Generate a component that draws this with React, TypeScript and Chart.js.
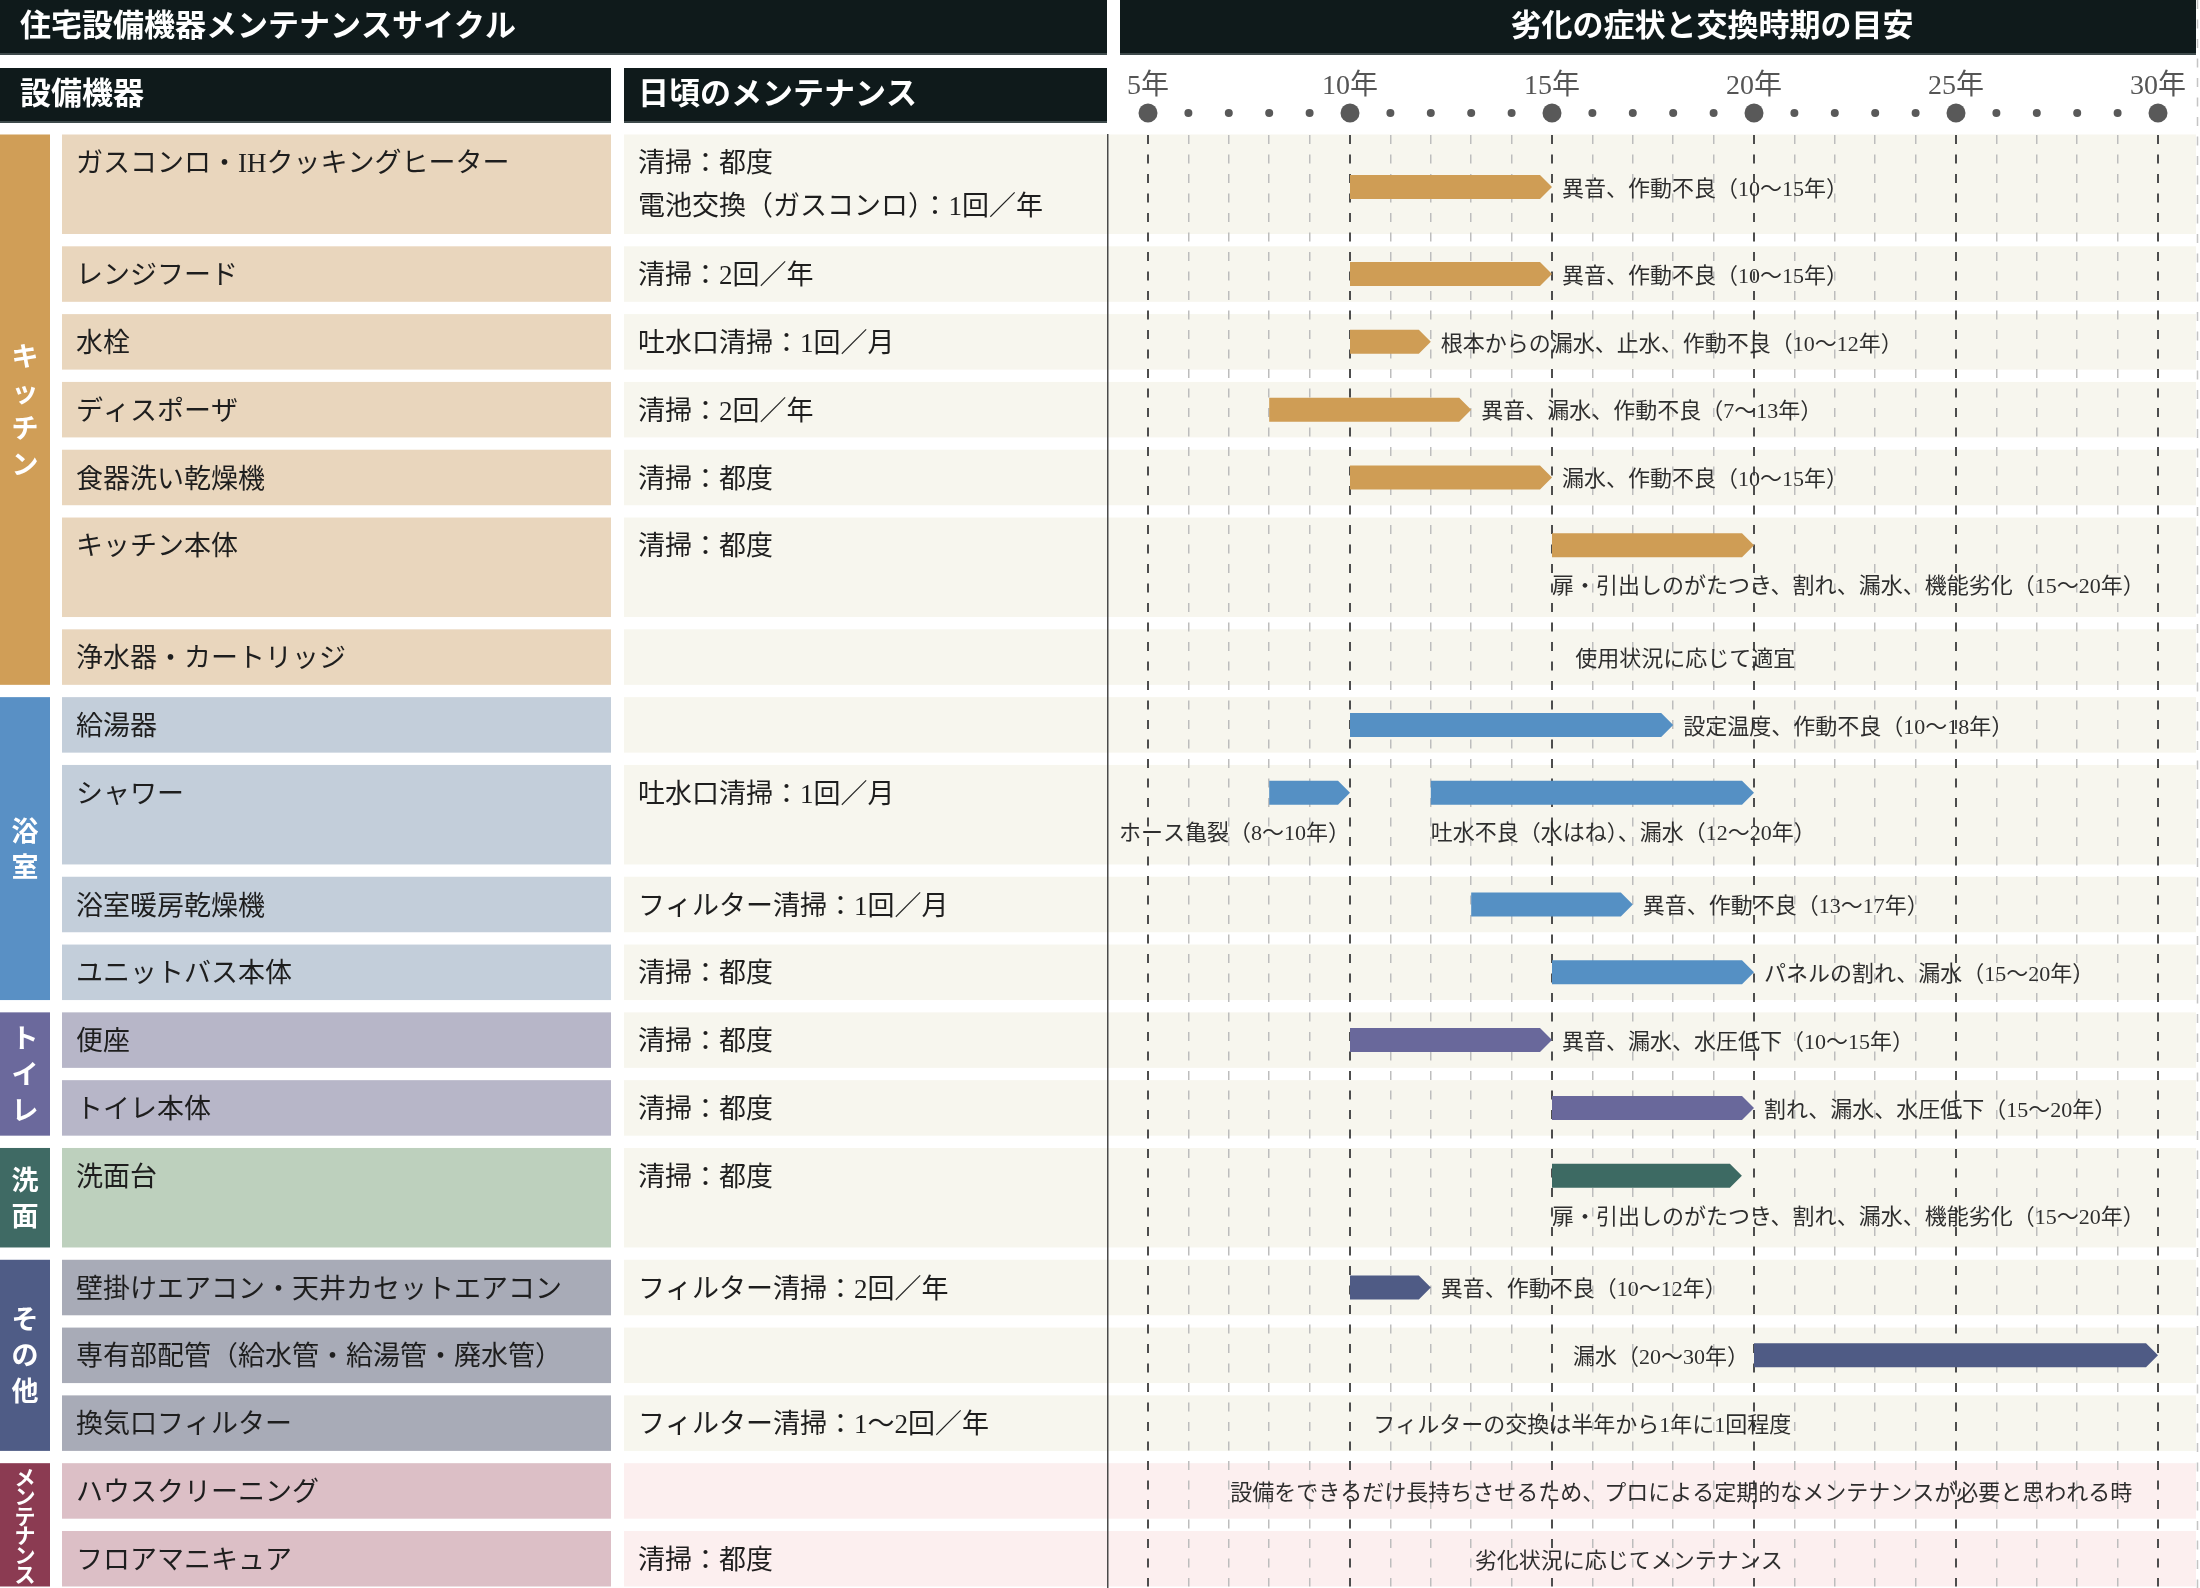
import React, { useEffect, useRef } from 'react';
import { Chart, registerables } from 'chart.js';

Chart.register(...registerables);

// ---------- data ----------
const mainTitle = '住宅設備機器メンテナンスサイクル';
const chartTitle = '劣化の症状と交換時期の目安';
const itemHeader = '設備機器';
const careHeader = '日頃のメンテナンス';

const groupNames = ['キッチン', '浴室', 'トイレ', '洗面', 'その他', 'メンテナンス'];
const groupSizes = [7, 4, 2, 1, 3, 2];

const itemNames = [
  'ガスコンロ・IHクッキングヒーター',
  'レンジフード',
  '水栓',
  'ディスポーザ',
  '食器洗い乾燥機',
  'キッチン本体',
  '浄水器・カートリッジ',
  '給湯器',
  'シャワー',
  '浴室暖房乾燥機',
  'ユニットバス本体',
  '便座',
  'トイレ本体',
  '洗面台',
  '壁掛けエアコン・天井カセットエアコン',
  '専有部配管（給水管・給湯管・廃水管）',
  '換気口フィルター',
  'ハウスクリーニング',
  'フロアマニキュア',
];

const dailyCare = [
  '清掃：都度\n電池交換（ガスコンロ）：1回／年',
  '清掃：2回／年',
  '吐水口清掃：1回／月',
  '清掃：2回／年',
  '清掃：都度',
  '清掃：都度',
  '',
  '',
  '吐水口清掃：1回／月',
  'フィルター清掃：1回／月',
  '清掃：都度',
  '清掃：都度',
  '清掃：都度',
  '清掃：都度',
  'フィルター清掃：2回／年',
  '',
  'フィルター清掃：1〜2回／年',
  '',
  '清掃：都度',
];

const barRows = [0, 1, 2, 3, 4, 5, 7, 8, 8, 9, 10, 11, 12, 13, 14, 15];
const barStart = [10, 10, 10, 8, 10, 15, 10, 8, 12, 13, 15, 10, 15, 15, 10, 20];
const barEnd = [15, 15, 12, 13, 15, 20, 18, 10, 20, 17, 20, 15, 20, 19.7, 12, 30];
const barLabels = [
  '異音、作動不良（10〜15年）',
  '異音、作動不良（10〜15年）',
  '根本からの漏水、止水、作動不良（10〜12年）',
  '異音、漏水、作動不良（7〜13年）',
  '漏水、作動不良（10〜15年）',
  '扉・引出しのがたつき、割れ、漏水、機能劣化（15〜20年）',
  '設定温度、作動不良（10〜18年）',
  'ホース亀裂（8〜10年）',
  '吐水不良（水はね）、漏水（12〜20年）',
  '異音、作動不良（13〜17年）',
  'パネルの割れ、漏水（15〜20年）',
  '異音、漏水、水圧低下（10〜15年）',
  '割れ、漏水、水圧低下（15〜20年）',
  '扉・引出しのがたつき、割れ、漏水、機能劣化（15〜20年）',
  '異音、作動不良（10〜12年）',
  '漏水（20〜30年）',
];
const barLabelSide = [
  'right', 'right', 'right', 'right', 'right', 'below', 'right', 'belowEnd',
  'below', 'right', 'right', 'right', 'right', 'below', 'right', 'left',
];

const noteRows = [6, 16, 17, 18];
const noteTexts = [
  '使用状況に応じて適宜',
  'フィルターの交換は半年から1年に1回程度',
  '設備をできるだけ長持ちさせるため、プロによる定期的なメンテナンスが必要と思われる時',
  '劣化状況に応じてメンテナンス',
];
const noteYears = [18.3, 15.75, 18.2, 16.9];

const axisYears = [5, 10, 15, 20, 25, 30];
const axisLabels = ['5年', '10年', '15年', '20年', '25年', '30年'];

// ---------- styles ----------
const W = 2200;
const H = 1588;
const DARK = '#0f1a1b';
const stripColors = ['#d09e57', '#5990c5', '#6b699c', '#3f6a64', '#4f5c86', '#8b3b52'];
const cellColors = ['#e9d6bd', '#c3ceda', '#b7b6c8', '#bdd0bd', '#a8abb7', '#dcbfc6'];
const barColors = ['#cf9d55', '#5590c4', '#69689b', '#3d6a63', '#4f5b85', '#8b3b52'];
const rowBg = ['#f7f6ee', '#f7f6ee', '#f7f6ee', '#f7f6ee', '#f7f6ee', '#fcefef'];
const JP = '"Liberation Serif", "Noto Sans CJK JP", serif';
const DY = 3; // small downward nudge for middle-baseline text

const ROW_BOX = 0.8186;
const TALL_BOX = 1.4676;
const ROW_GAP = 0.1814;

// derived layout
const rowGroup: number[] = [];
groupSizes.forEach((n, g) => { for (let i = 0; i < n; i++) rowGroup.push(g); });
const rowTall = itemNames.map((_, i) =>
  dailyCare[i].includes('\n') ||
  barRows.some((r, k) => r === i && barLabelSide[k].startsWith('below'))
);
const rowTop: number[] = [];
const rowBox: number[] = [];
{
  let t = 0;
  itemNames.forEach((_, i) => {
    rowTop.push(t);
    const b = rowTall[i] ? TALL_BOX : ROW_BOX;
    rowBox.push(b);
    t += b + ROW_GAP;
  });
}
const totalUnits = rowTop[rowTop.length - 1] + rowBox[rowBox.length - 1];

const barCenter = barRows.map((r, k) =>
  barLabelSide[k].startsWith('below') ? rowTop[r] + ROW_BOX / 2 : rowTop[r] + rowBox[r] / 2 + (rowTall[r] ? 0.04 : 0)
);

const barData = barRows.map((r, k) => ({ x: [barStart[k], barEnd[k]], y: barCenter[k] }));

const tablePlugin = {
  id: 'maintTable',
  beforeDraw(chart: any) {
    const ctx = chart.ctx as CanvasRenderingContext2D;
    const ys = chart.scales.y;
    const xs = chart.scales.x;
    ctx.save();
    ctx.fillStyle = '#ffffff';
    ctx.fillRect(0, 0, W, H);

    // title bars
    ctx.fillStyle = DARK;
    ctx.fillRect(0, 0, 1107, 55);
    ctx.fillRect(1120, 0, 1076, 55);
    ctx.fillRect(0, 68, 611, 55);
    ctx.fillRect(624, 68, 483, 55);
    ctx.fillStyle = '#3e4a4b';
    ctx.fillRect(0, 53, 1107, 2);
    ctx.fillRect(1120, 53, 1076, 2);
    ctx.fillRect(0, 121, 611, 2);
    ctx.fillRect(624, 121, 483, 2);

    ctx.fillStyle = '#ffffff';
    ctx.font = `bold 31px ${JP}`;
    ctx.textBaseline = 'middle';
    ctx.textAlign = 'left';
    ctx.fillText(mainTitle, 20, 28);
    ctx.fillText(itemHeader, 20, 96);
    ctx.fillText(careHeader, 638, 96);
    ctx.textAlign = 'center';
    ctx.fillText(chartTitle, 1712, 28);

    // rows
    itemNames.forEach((name, i) => {
      const g = rowGroup[i];
      const top = ys.getPixelForValue(rowTop[i]);
      const bot = ys.getPixelForValue(rowTop[i] + rowBox[i]);
      ctx.fillStyle = cellColors[g];
      ctx.fillRect(62, top, 549, bot - top);
      ctx.fillStyle = rowBg[g];
      ctx.fillRect(624, top, 2196 - 624, bot - top);
      const ty = ys.getPixelForValue(rowTop[i] + ROW_BOX / 2) + DY;
      ctx.fillStyle = '#1e1e1e';
      ctx.font = `27px ${JP}`;
      ctx.textAlign = 'left';
      ctx.fillText(name, 76, ty);
      dailyCare[i].split('\n').forEach((line, li) => {
        if (line) ctx.fillText(line, 638, ty + li * 43);
      });
    });

    // group strips
    let start = 0;
    groupNames.forEach((gname, g) => {
      const first = start;
      const last = start + groupSizes[g] - 1;
      start += groupSizes[g];
      const top = ys.getPixelForValue(rowTop[first]);
      const bot = ys.getPixelForValue(rowTop[last] + rowBox[last]);
      ctx.fillStyle = stripColors[g];
      ctx.fillRect(0, top, 50, bot - top);
      const chars = Array.from(gname);
      const small = chars.length > 4;
      const step = small ? 19.5 : 36;
      ctx.font = `bold ${small ? 21 : 27}px ${JP}`;
      ctx.fillStyle = '#ffffff';
      ctx.textAlign = 'center';
      const mid = (top + bot) / 2 + (small ? 3 : DY);
      chars.forEach((c, ci) => {
        ctx.fillText(c, 25, mid + (ci - (chars.length - 1) / 2) * step);
      });
    });

    // separator and right edge
    ctx.fillStyle = '#4a4a4a';
    ctx.fillRect(1107, 134, 1.5, H - 134);
    ctx.strokeStyle = '#c4c4c4';
    ctx.lineWidth = 1.5;
    ctx.setLineDash([9, 10.5]);
    ctx.beginPath();
    ctx.moveTo(2197.5, 0);
    ctx.lineTo(2197.5, H);
    ctx.stroke();
    ctx.setLineDash([]);

    // axis dots and labels
    for (let yr = xs.min; yr <= xs.max; yr++) {
      const px = xs.getPixelForValue(yr);
      const major = axisYears.includes(yr);
      ctx.fillStyle = '#595959';
      ctx.beginPath();
      ctx.arc(px, 113, major ? 9.5 : 4, 0, Math.PI * 2);
      ctx.fill();
    }
    ctx.fillStyle = '#555555';
    ctx.font = `28px ${JP}`;
    ctx.textAlign = 'center';
    axisYears.forEach((yr, k) => {
      ctx.fillText(axisLabels[k], xs.getPixelForValue(yr), 87);
    });
    ctx.restore();
  },
  afterDatasetsDraw(chart: any) {
    const ctx = chart.ctx as CanvasRenderingContext2D;
    const ys = chart.scales.y;
    const xs = chart.scales.x;
    const meta = chart.getDatasetMeta(0);
    ctx.save();
    meta.data.forEach((el: any, k: number) => {
      const p = el.getProps(['x', 'base', 'y', 'height'], true);
      const x0 = Math.min(p.x, p.base);
      const x1 = Math.max(p.x, p.base);
      const hh = p.height / 2;
      const tip = 12;
      ctx.fillStyle = barColors[rowGroup[barRows[k]]];
      ctx.beginPath();
      ctx.moveTo(x0, p.y - hh);
      ctx.lineTo(x1 - tip, p.y - hh);
      ctx.lineTo(x1, p.y);
      ctx.lineTo(x1 - tip, p.y + hh);
      ctx.lineTo(x0, p.y + hh);
      ctx.closePath();
      ctx.fill();

      ctx.fillStyle = '#2e2e2e';
      ctx.font = `22px ${JP}`;
      ctx.textBaseline = 'middle';
      const side = barLabelSide[k];
      const ly = p.y + DY;
      if (side === 'right') {
        ctx.textAlign = 'left';
        ctx.fillText(barLabels[k], x1 + 10, ly);
      } else if (side === 'below') {
        ctx.textAlign = 'left';
        ctx.fillText(barLabels[k], x0, ly + 39);
      } else if (side === 'belowEnd') {
        ctx.textAlign = 'right';
        ctx.fillText(barLabels[k], x1, ly + 39);
      } else {
        ctx.textAlign = 'right';
        ctx.fillText(barLabels[k], x0 - 5, ly);
      }
    });
    ctx.fillStyle = '#2e2e2e';
    ctx.font = `22px ${JP}`;
    ctx.textAlign = 'center';
    ctx.textBaseline = 'middle';
    noteRows.forEach((r, k) => {
      const cy = ys.getPixelForValue(rowTop[r] + rowBox[r] / 2) + DY;
      ctx.fillText(noteTexts[k], xs.getPixelForValue(noteYears[k]), cy);
    });
    ctx.restore();
  },
};

export default function App() {
  const ref = useRef<HTMLCanvasElement | null>(null);
  useEffect(() => {
    if (!ref.current) return;
    const chart = new Chart(ref.current, {
      type: 'bar',
      data: {
        datasets: [
          {
            data: barData as any,
            backgroundColor: 'rgba(0,0,0,0)',
            borderWidth: 0,
            barThickness: 24,
          },
        ],
      },
      options: {
        animation: false,
        responsive: false,
        indexAxis: 'y',
        layout: { padding: { left: 1148, right: 42, top: 134.5, bottom: 1.5 } },
        plugins: { legend: { display: false }, tooltip: { enabled: false } },
        scales: {
          x: {
            type: 'linear',
            min: 5,
            max: 30,
            position: 'top',
            offset: false,
            ticks: { display: false, stepSize: 1 },
            grid: {
              offset: false,
              drawTicks: false,
              color: (c: any) => (c.tick && axisYears.includes(c.tick.value) ? '#4d4d4d' : '#bdbdbd'),
              lineWidth: (c: any) => (c.tick && axisYears.includes(c.tick.value) ? 2 : 1.5),
            },
            border: { display: false, dash: [9, 10.5] },
          },
          y: {
            type: 'linear',
            min: 0,
            max: totalUnits,
            reverse: true,
            offset: false,
            grid: { offset: false },
            display: false,
          },
        },
      },
      plugins: [tablePlugin],
    } as any);
    return () => chart.destroy();
  }, []);
  return (
    <div style={{ position: 'absolute', left: 0, top: 0, width: W, height: H }}>
      <canvas ref={ref} width={W} height={H} style={{ width: W, height: H, display: 'block' }} />
    </div>
  );
}
